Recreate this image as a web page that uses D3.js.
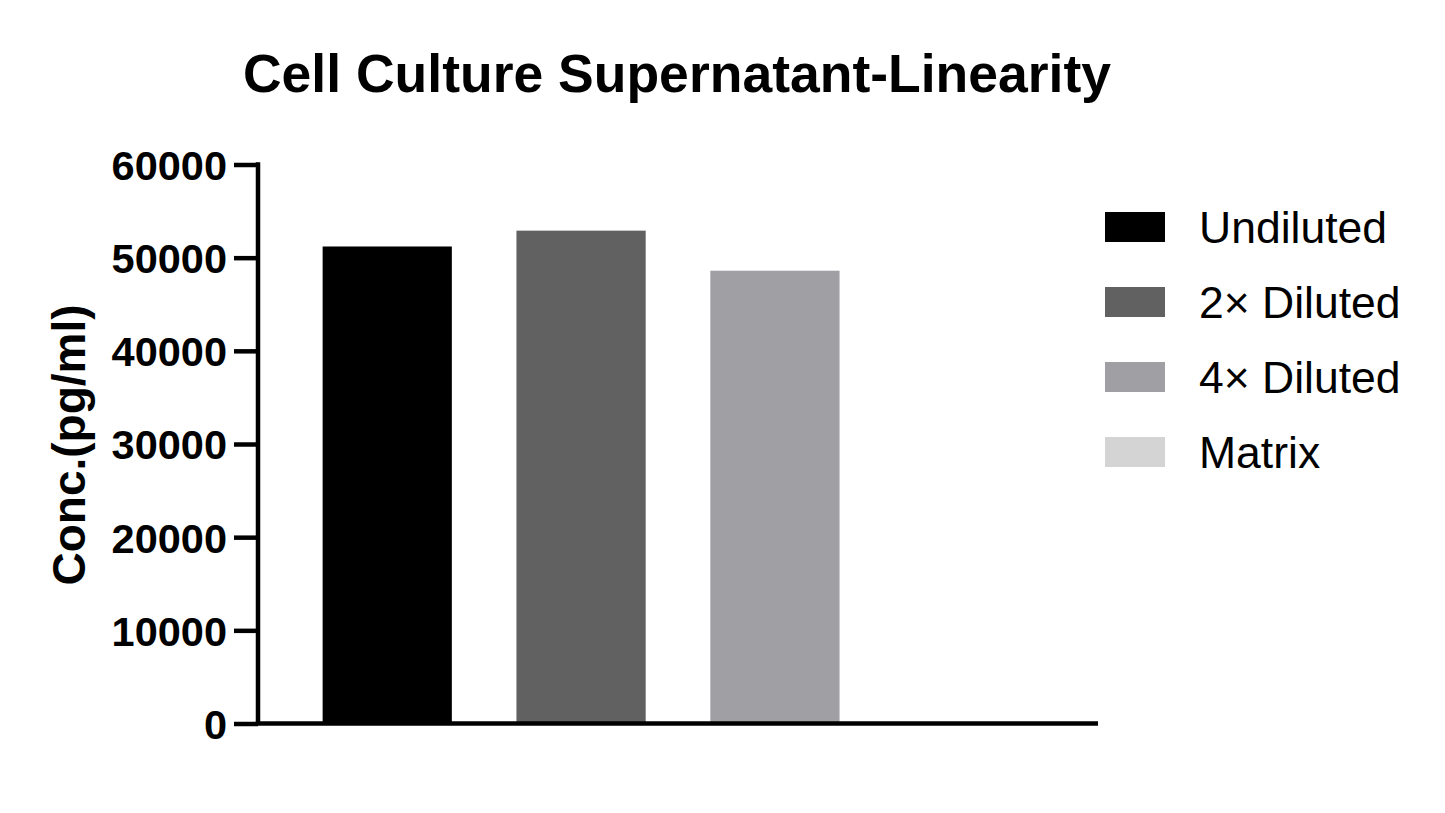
<!DOCTYPE html>
<html>
<head>
<meta charset="utf-8">
<script src="https://cdn.jsdelivr.net/npm/d3@7/dist/d3.min.js"></script>
<style>
  html, body { margin: 0; padding: 0; background: #fff; }
  svg { display: block; }
  text { font-family: "Liberation Sans", Arial, sans-serif; }
</style>
</head>
<body>
<svg id="chart" width="1445" height="813"></svg>
<script>
const categories = ["Undiluted", "2× Diluted", "4× Diluted", "Matrix"];
const values = [51200, 52900, 48600, 0];
const colors = ["#000000", "#616161", "#a0a0a4", "#d4d4d4"];
const yTicks = [0, 10000, 20000, 30000, 40000, 50000, 60000];
const titleText = "Cell Culture Supernatant-Linearity";
const yLabel = "Conc.(pg/ml)";

(function () {
const svg = d3.select("#chart");
const mLeft = 258, mRight = 1098, mTop = 164.5, mBottom = 723.5;

const x = d3.scaleBand().domain(categories).range([mLeft, mRight])
  .paddingInner(1/3).paddingOuter(1/3);
const y = d3.scaleLinear().domain([0, 60000]).range([mBottom, mTop]);

// Title
svg.append("text")
  .attr("x", 677).attr("y", 92)
  .attr("text-anchor", "middle")
  .attr("font-size", 53.5).attr("font-weight", "bold")
  .text(titleText);

// Bars
svg.append("g").selectAll("rect").data(categories).join("rect")
  .attr("x", d => x(d))
  .attr("width", x.bandwidth())
  .attr("y", (d, i) => y(values[i]))
  .attr("height", (d, i) => y(0) - y(values[i]))
  .attr("fill", (d, i) => colors[i]);

// Y axis
const yAxis = d3.axisLeft(y).tickValues(yTicks).tickSize(24).tickPadding(7)
  .tickFormat(d3.format("d"));
const gy = svg.append("g").attr("transform", `translate(${mLeft},0)`).call(yAxis);
gy.select(".domain").remove();
gy.selectAll(".tick line").attr("stroke", "#000").attr("stroke-width", 4.5);
gy.selectAll(".tick text")
  .attr("font-size", 41.5).attr("font-weight", "bold")
  .attr("fill", "#000")
  .attr("font-family", "'Liberation Sans', Arial, sans-serif")
  .attr("dy", "0.36em");
svg.append("line")
  .attr("x1", mLeft).attr("x2", mLeft)
  .attr("y1", mTop - 2.25).attr("y2", mBottom)
  .attr("stroke", "#000").attr("stroke-width", 4.5);

// X axis
svg.append("line")
  .attr("x1", mLeft - 2.25).attr("x2", mRight)
  .attr("y1", y(0)).attr("y2", y(0))
  .attr("stroke", "#000").attr("stroke-width", 4.5);

// Y label
svg.append("text")
  .attr("transform", "translate(85,445) rotate(-90)")
  .attr("text-anchor", "middle")
  .attr("font-size", 46).attr("font-weight", "bold")
  .text(yLabel);

// Legend
const lg = svg.append("g");
const rows = lg.selectAll("g").data(categories).join("g")
  .attr("transform", (d, i) => `translate(1105,${227 + i * 75})`);
rows.append("rect")
  .attr("x", 0).attr("y", -15).attr("width", 60).attr("height", 30)
  .attr("fill", (d, i) => colors[i]);
rows.append("text")
  .attr("x", 94).attr("y", 16)
  .attr("font-size", 44.5)
  .text(d => d);
})();
</script>
</body>
</html>
